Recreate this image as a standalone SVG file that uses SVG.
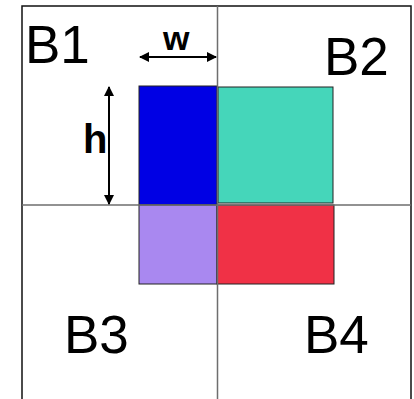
<svg xmlns="http://www.w3.org/2000/svg" width="414" height="399" viewBox="0 0 414 399">
<defs>
<style>
.lbl{font-family:"Liberation Sans",Arial,sans-serif;fill:#000}
.big{font-size:53px}
.dim{font-weight:bold}
.grid{stroke:#6e6e6e;stroke-width:1.5;fill:none}
.blk{stroke:#222;stroke-width:1;}
.arr{stroke:#000;stroke-width:2;fill:none}
</style>
<marker id="ah" viewBox="0 0 10 10" refX="9" refY="5" markerWidth="5" markerHeight="5" orient="auto-start-reverse" markerUnits="strokeWidth">
<path d="M0,0 L10,5 L0,10 z" fill="#000"/>
</marker>
</defs>
<rect width="414" height="399" fill="#fff"/>
<g id="frame">
<path d="M22,402 L22,6 L411,6 L411,402" fill="none" stroke="#111" stroke-width="1.5"/>
</g>
<g id="blue"><rect x="139" y="86" width="78" height="119" fill="#0000E4" class="blk"/></g>
<g id="teal"><rect x="218" y="87" width="115" height="116" fill="#45D6BA" class="blk"/></g>
<g id="purple"><rect x="139" y="205" width="78" height="79" fill="#A988F0" class="blk"/></g>
<g id="red"><rect x="217" y="205" width="117" height="79" fill="#F03146" class="blk"/></g>
<g id="connectors">
<line class="grid" x1="217.5" y1="6" x2="217.5" y2="399"/>
<line class="grid" x1="22" y1="205" x2="411" y2="205"/>
<line class="arr" x1="140" y1="57" x2="216" y2="57" marker-start="url(#ah)" marker-end="url(#ah)"/>
<line class="arr" x1="109" y1="87" x2="109" y2="204" marker-start="url(#ah)" marker-end="url(#ah)"/>
</g>
<g id="B1"><text class="lbl big" x="25" y="63">B1</text></g>
<g id="B2"><text class="lbl big" x="324" y="75">B2</text></g>
<g id="B3"><text class="lbl big" x="64" y="353">B3</text></g>
<g id="B4"><text class="lbl big" x="304" y="353">B4</text></g>
<g id="w"><text class="lbl dim" x="163" y="50" font-size="34">w</text></g>
<g id="h"><text class="lbl dim" x="83" y="153" font-size="40">h</text></g>
</svg>
